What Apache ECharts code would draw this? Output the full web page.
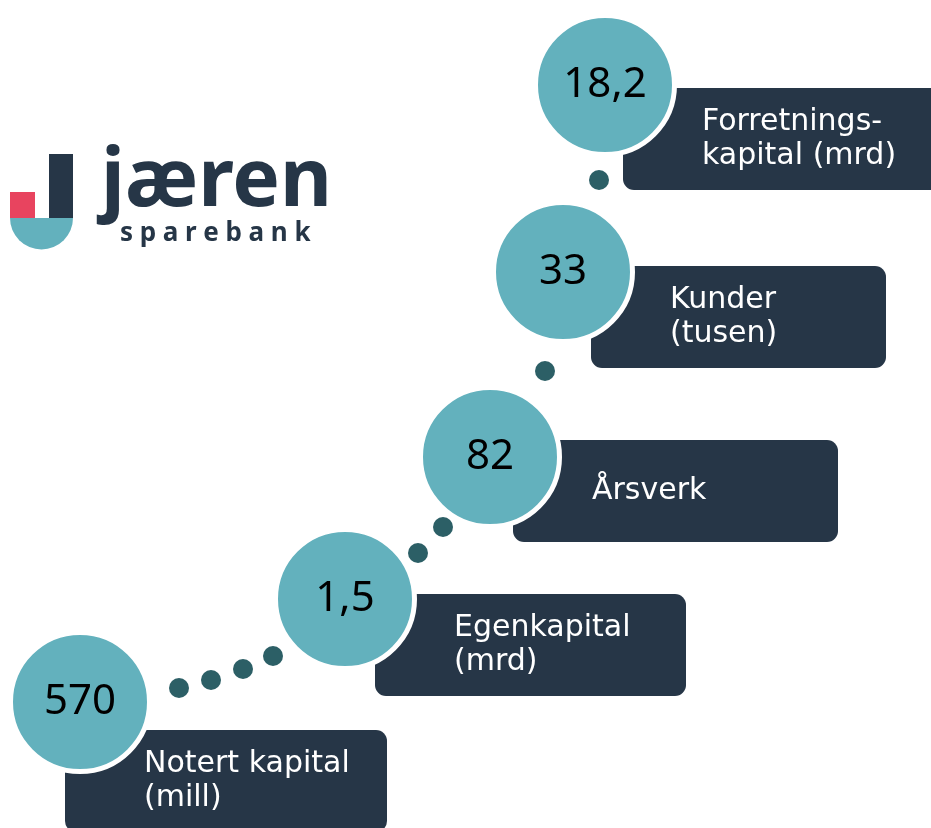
<!DOCTYPE html>
<html>
<head>
<meta charset="utf-8">
<script src="https://cdn.jsdelivr.net/npm/echarts@6/dist/echarts.min.js"></script>
<style>
  html, body { margin: 0; padding: 0; background: #fff; }
  #chart { width: 931px; height: 828px; }
</style>
</head>
<body>
<div id="chart"></div>
<script>
// key figures, bottom step first
const values = ['570', '1,5', '82', '33', '18,2'];
const labels = ['Notert kapital\n(mill)', 'Egenkapital\n(mrd)', 'Årsverk', 'Kunder\n(tusen)', 'Forretnings-\nkapital (mrd)'];

// staircase layout (page pixels)
const circleX = [80, 345, 490, 563, 605];
const circleY = [702, 599, 457, 272, 85];
const boxLeft = [65, 375, 513, 591, 623];
const boxTop = [730, 594, 440, 266, 88];
const boxWidth = [322, 311, 325, 295, 330];
const BOX_H = 102;
const dotX = [179, 211, 243, 273, 418, 443, 545, 599];
const dotY = [688, 680, 669, 656, 553, 527, 371, 180];

const NAVY = '#263647';
const TEAL = '#63b1bd';
const DOT = '#2c5f66';
const RED = '#e8445f';
const FONT = '"Noto Sans", "DejaVu Sans", sans-serif';
const LABEL_FONT = '"DejaVu Sans", sans-serif';

// "sparebank" is letter spaced in the logo
const measure = document.createElement('canvas').getContext('2d');
measure.font = 'bold 26px "Noto Sans"';
const word = 'sparebank';
const natural = measure.measureText(word).width;
const gap = (190 - natural) / (word.length - 1);
const letters = [];
let lx = 120;
for (const ch of word) {
  letters.push({
    type: 'text', x: lx, y: 234,
    style: { text: ch, fill: NAVY, font: 'bold 26px "Noto Sans"', verticalAlign: 'middle' }
  });
  lx += measure.measureText(ch).width + gap;
}

const chart = echarts.init(document.getElementById('chart'));
chart.setOption({
  animation: false,
  grid: { left: 0, right: 0, top: 0, bottom: 0 },
  xAxis: { type: 'value', min: 0, max: 931, show: false },
  yAxis: { type: 'value', min: 0, max: 828, inverse: true, show: false },
  graphic: [
    { type: 'rect', shape: { x: 49, y: 154, width: 24, height: 64 }, style: { fill: NAVY } },
    { type: 'rect', shape: { x: 10, y: 192, width: 25, height: 26 }, style: { fill: RED } },
    { type: 'sector', shape: { cx: 41.5, cy: 218, r: 31.5, startAngle: 0, endAngle: Math.PI }, style: { fill: TEAL } },
    { type: 'text', x: 101, y: 183, style: { text: 'jæren', fill: NAVY, font: 'bold 80px "Noto Sans"', verticalAlign: 'middle' } },
    ...letters
  ],
  series: [
    {
      type: 'custom',
      z: 1,
      clip: false,
      data: values.map((v, i) => [boxLeft[i], boxTop[i]]),
      renderItem: (params, api) => {
        const i = params.dataIndex;
        const p0 = api.coord([boxLeft[i], boxTop[i]]);
        const p1 = api.coord([boxLeft[i] + boxWidth[i], boxTop[i] + BOX_H]);
        return {
          type: 'group',
          children: [
            {
              type: 'rect',
              shape: { x: p0[0], y: p0[1], width: p1[0] - p0[0], height: p1[1] - p0[1], r: 11 },
              style: { fill: NAVY }
            },
            {
              type: 'text',
              x: p0[0] + 79,
              y: (p0[1] + p1[1]) / 2,
              style: {
                text: labels[i], fill: '#fff', fontSize: 30, fontFamily: LABEL_FONT,
                lineHeight: 34, verticalAlign: 'middle'
              }
            }
          ]
        };
      }
    },
    {
      type: 'scatter',
      z: 2,
      symbolSize: 20,
      itemStyle: { color: DOT, opacity: 1 },
      data: dotX.map((x, i) => [x, dotY[i]]),
      silent: true
    },
    {
      type: 'scatter',
      z: 3,
      symbolSize: 139,
      itemStyle: { color: TEAL, borderColor: '#fff', borderWidth: 5, opacity: 1 },
      label: {
        show: true, position: 'inside', color: '#000', fontSize: 42, fontFamily: FONT,
        formatter: p => values[p.dataIndex]
      },
      data: values.map((v, i) => [circleX[i], circleY[i]]),
      silent: true
    }
  ]
});
</script>
</body>
</html>
